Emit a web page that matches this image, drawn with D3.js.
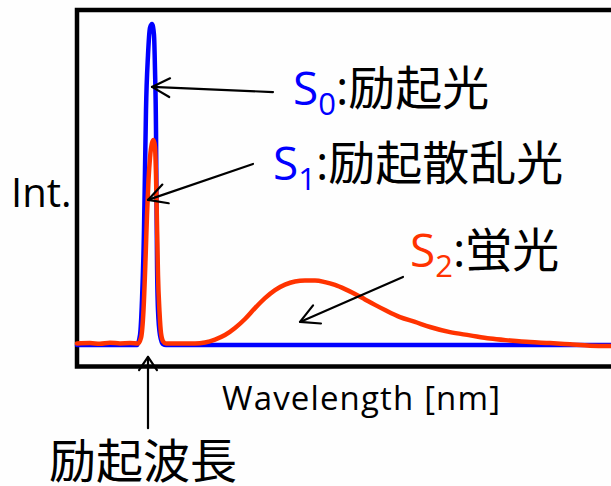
<!DOCTYPE html>
<html>
<head>
<meta charset="utf-8">
<script src="https://cdn.jsdelivr.net/npm/d3@7"></script>
<style>
  html, body { margin: 0; padding: 0; background: #ffffff; }
  svg { display: block; }
</style>
</head>
<body>
<script>
// S0: excitation light (wavelength [nm], intensity [a.u.])
const excitationWl  = [280, 340, 343, 345, 347, 348, 349, 351, 353, 355, 357, 358, 359, 359.5, 360, 361, 363, 366, 369, 814];
const excitationInt = [0,   0,   3.1, 14.0, 35.8, 54.5, 73.2, 90.3, 98.8, 100, 96.6, 85.7, 67.0, 45.2, 26.5, 10.9, 3.1, 0.3, 0, 0];

// S1 + S2: scattered excitation light and fluorescence
const emissionWl  = [280, 293, 303, 313, 323, 333, 341, 344, 346.5, 348.5, 350, 351.5, 353, 355, 356.5, 358, 359, 360, 361, 362.5, 364, 366, 369,
                     383, 398, 408, 418, 428, 438, 448, 458, 468, 478, 488, 498, 508, 518, 528, 538, 548, 558, 568, 578, 588,
                     603, 618, 633, 653, 673, 693, 713, 733, 753, 773, 793, 814];
const emissionInt = [0.5, 0.6, 0.4, 0.7, 0.5, 0.6, 0.5, 2.2, 10.9, 26.5, 40.5, 51.4, 58.3, 62.9, 63.9, 61.7, 53.0, 37.4, 21.8, 10.3, 3.7, 1.2, 0.5,
                     0.5, 0.5, 0.8, 1.7, 3.1, 5.3, 8.1, 11.5, 14.6, 17.1, 18.8, 19.8, 20.1, 20.1, 19.6, 18.7, 17.4, 15.9, 14.2, 12.5, 10.9,
                     8.7, 7.2, 5.6, 4.0, 3.0, 2.0, 1.4, 0.9, 0.6, 0.2, -0.2, -0.3];

// Annotation labels: symbol, subscript, description
const labelSymbols = ["S", "S", "S"];
const labelSubs    = ["0", "1", "2"];
const labelTexts   = [":励起光", ":励起散乱光", ":蛍光"];

// Arrows pointing at the curves: [wavelength, intensity] of tail and tip
const arrowTails = [[476, 78.8], [456, 56.4], [606, 21.2], [351, -25.9]];
const arrowTips  = [[355, 80.4], [351, 45.2], [503, 7.2],  [351, -3.7]];

const axisTitleX = "Wavelength [nm]";
const axisTitleY = "Int.";
const excitationWlLabel = "励起波長";

const W = 611, H = 486;
const BLUE = "#0000ff", RED = "#ff3300";
const FONT = "'Open Sans', 'Noto Sans CJK JP', sans-serif";

const svg = d3.select("body").append("svg")
  .attr("width", W).attr("height", H)
  .style("font-family", FONT);

svg.append("rect").attr("width", W).attr("height", H).attr("fill", "#fefefe");

const x = d3.scaleLinear().domain([280, 814]).range([77, 611]);
const y = d3.scaleLinear().domain([0, 100]).range([345, 24]);

// Frame: left, top and bottom edges (the right edge runs off the page)
const frameTop = 10, frameBottom = 366.5, frameLeft = 77;
svg.append("rect")
  .attr("x", frameLeft).attr("y", frameTop)
  .attr("width", W + 20 - frameLeft).attr("height", frameBottom - frameTop)
  .attr("fill", "none").attr("stroke", "#000").attr("stroke-width", 4.5);

const line = d3.line().x(d => x(d[0])).y(d => y(d[1])).curve(d3.curveMonotoneX);

const excitation = excitationWl.map((w, i) => [w, excitationInt[i]]);
const emission   = emissionWl.map((w, i) => [w, emissionInt[i]]);

const plot = svg.append("g");
plot.append("path").datum(excitation)
  .attr("d", line).attr("fill", "none")
  .attr("stroke", BLUE).attr("stroke-width", 4.5)
  .attr("stroke-linejoin", "round").attr("stroke-linecap", "round");
plot.append("path").datum(emission)
  .attr("d", line).attr("fill", "none")
  .attr("stroke", RED).attr("stroke-width", 4.5)
  .attr("stroke-linejoin", "round").attr("stroke-linecap", "round");

// Arrows with open heads
const headLen = [20, 21, 21, 16];
const headAng = [28, 28, 28, 34].map(a => a * Math.PI / 180);
arrowTails.forEach((t, i) => {
  const x0 = x(t[0]), y0 = y(t[1]);
  const x1 = x(arrowTips[i][0]), y1 = y(arrowTips[i][1]);
  const ang = Math.atan2(y0 - y1, x0 - x1);
  const L = headLen[i], A = headAng[i];
  const ax = x1 + L * Math.cos(ang + A), ay = y1 + L * Math.sin(ang + A);
  const bx = x1 + L * Math.cos(ang - A), by = y1 + L * Math.sin(ang - A);
  const g = svg.append("g").attr("stroke", "#000").attr("stroke-width", 2.2)
    .attr("fill", "none").attr("stroke-linecap", "round").attr("stroke-linejoin", "round");
  g.append("line").attr("x1", x0).attr("y1", y0).attr("x2", x1).attr("y2", y1);
  g.append("path").attr("d", `M${ax},${ay}L${x1},${y1}L${bx},${by}`);
});

// State labels
const labelPos = [[293, 105], [273, 180], [410, 267]];
const labelColors = [BLUE, BLUE, RED];
labelTexts.forEach((txt, i) => {
  const t = svg.append("text")
    .attr("x", labelPos[i][0]).attr("y", labelPos[i][1])
    .attr("font-size", 46);
  t.append("tspan").attr("fill", labelColors[i]).text(labelSymbols[i]);
  t.append("tspan").attr("fill", labelColors[i]).attr("font-size", 31).attr("dy", 10).text(labelSubs[i]);
  t.append("tspan").attr("fill", "#000").attr("dy", -10).attr("font-size", 47).text(txt);
});

// Axis titles
svg.append("text").attr("x", 11).attr("y", 207)
  .attr("font-size", 40).attr("fill", "#000").text(axisTitleY);

svg.append("text").attr("x", 222).attr("y", 410)
  .attr("font-size", 33).attr("fill", "#000")
  .attr("textLength", 278).attr("lengthAdjust", "spacing")
  .text(axisTitleX);

svg.append("text").attr("x", 49).attr("y", 478)
  .attr("font-size", 47).attr("fill", "#000").text(excitationWlLabel);
</script>
</body>
</html>
